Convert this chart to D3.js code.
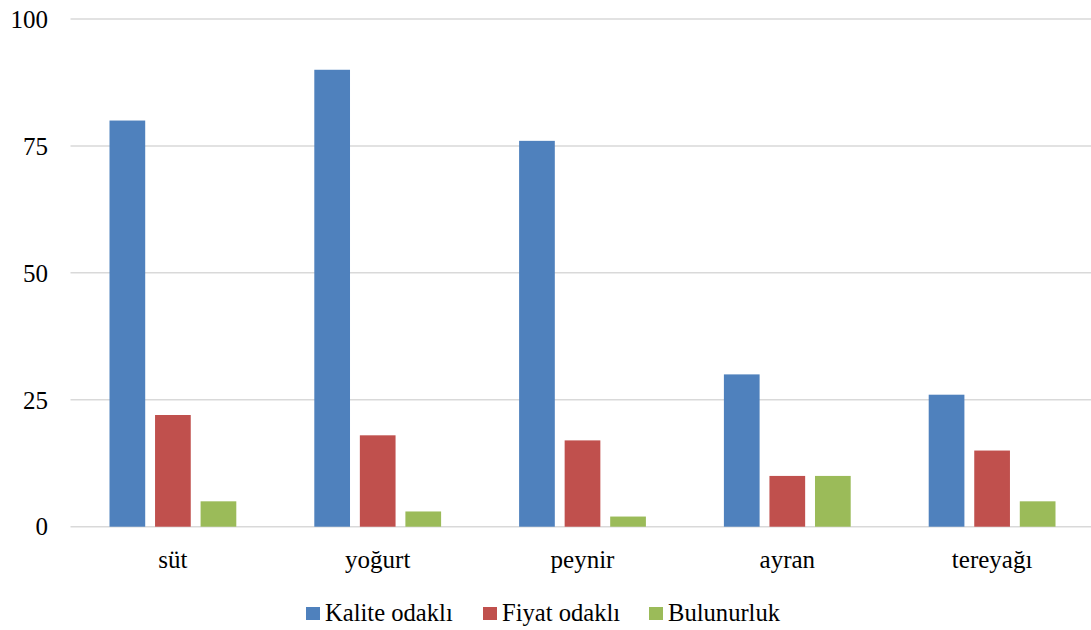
<!DOCTYPE html>
<html>
<head>
<meta charset="utf-8">
<script src="https://cdn.jsdelivr.net/npm/d3@7"></script>
</head>
<body style="margin:0;background:#fff">
<svg id="figure" width="1091" height="630" font-family="Times New Roman" font-size="25"></svg>
<script>
// Product categories and survey shares per preference type
const categories = ["süt", "yoğurt", "peynir", "ayran", "tereyağı"];
const seriesNames = ["Kalite odaklı", "Fiyat odaklı", "Bulunurluk"];
const kaliteOdakli = [80, 90, 76, 30, 26];
const fiyatOdakli  = [22, 18, 17, 10, 15];
const bulunurluk   = [5, 3, 2, 10, 5];
const yTicks = [0, 25, 50, 75, 100];
const seriesColors = ["#4F81BD", "#C0504D", "#9BBB59"];

const seriesValues = [kaliteOdakli, fiyatOdakli, bulunurluk];
const rows = categories.map((c, i) => ({
  category: c,
  values: seriesNames.map((s, j) => ({ series: s, value: seriesValues[j][i] }))
}));

const svg = d3.select("#figure");
const plotLeft = 70.5, plotRight = 1094.5, plotTop = 19, plotBottom = 526.7;

const y = d3.scaleLinear().domain([0, 100]).range([plotBottom, plotTop]);
const x0 = d3.scaleBand().domain(categories).range([plotLeft, plotRight]).padding(0);
const groupPad = 39;
const x1 = d3.scaleBand().domain(seriesNames)
  .range([groupPad, x0.bandwidth() - groupPad])
  .paddingInner(0.216).paddingOuter(0);
const color = d3.scaleOrdinal().domain(seriesNames).range(seriesColors);

// Horizontal gridlines
svg.append("g")
  .selectAll("line")
  .data(yTicks)
  .join("line")
  .attr("x1", plotLeft)
  .attr("x2", 1091)
  .attr("y1", d => y(d))
  .attr("y2", d => y(d))
  .attr("stroke", "#d9d9d9")
  .attr("stroke-width", 1.5);

// Y axis labels
const yAxis = d3.axisLeft(y).tickValues(yTicks).tickSize(0).tickPadding(0);
const gy = svg.append("g").attr("transform", "translate(48,0)").call(yAxis);
gy.attr("font-family", "Times New Roman").attr("font-size", 25);
gy.select(".domain").remove();
gy.selectAll("text").attr("fill", "#000").attr("dy", "0.33em");

// Bars
const groups = svg.append("g")
  .selectAll("g")
  .data(rows)
  .join("g")
  .attr("transform", d => `translate(${x0(d.category)},0)`);

groups.selectAll("rect")
  .data(d => d.values)
  .join("rect")
  .attr("x", d => x1(d.series))
  .attr("width", x1.bandwidth())
  .attr("y", d => y(d.value))
  .attr("height", d => plotBottom - y(d.value))
  .attr("fill", d => color(d.series));

// Category labels
const xAxis = d3.axisBottom(x0).tickSize(0).tickPadding(0);
const gx = svg.append("g").attr("transform", "translate(0,568)").call(xAxis);
gx.attr("font-family", "Times New Roman").attr("font-size", 25);
gx.select(".domain").remove();
gx.selectAll("text").attr("fill", "#000").attr("dy", 0).attr("y", 0);

// Legend
const legendX = [306, 483, 649];
const legend = svg.append("g")
  .attr("font-size", 24.6)
  .selectAll("g")
  .data(seriesNames)
  .join("g")
  .attr("transform", (d, i) => `translate(${legendX[i]},0)`);
legend.append("rect")
  .attr("x", 0).attr("y", 607)
  .attr("width", 14).attr("height", 13)
  .attr("fill", d => color(d));
legend.append("text")
  .attr("x", 19).attr("y", 621)
  .attr("fill", "#000")
  .text(d => d);
</script>
</body>
</html>
